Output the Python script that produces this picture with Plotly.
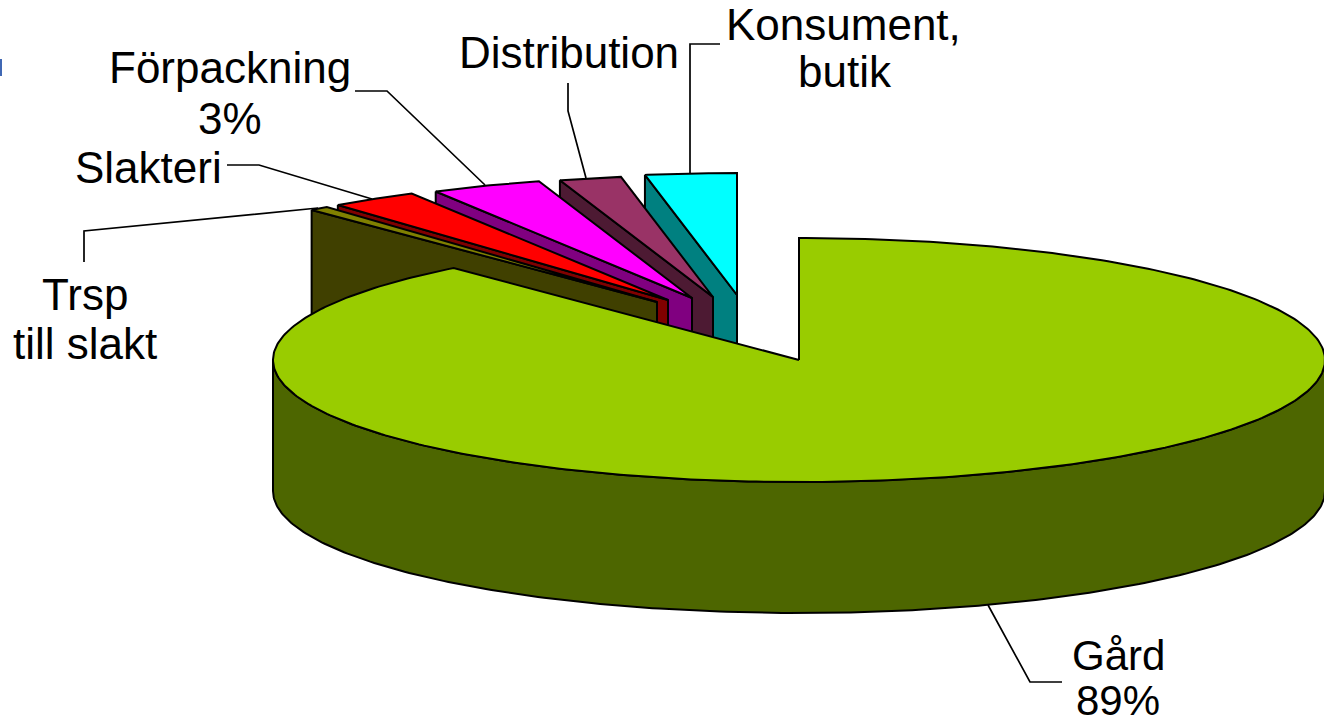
import numpy as np
import plotly.graph_objects as go

# ---- data (percent of total), clockwise from 12 o'clock
categories = ["Gård", "Trsp till slakt", "Slakteri", "Förpackning", "Distribution", "Konsument, butik"]
values = [88.6, 0.6, 2.7, 3.4, 1.9, 2.8]

top_colors = ["#99CC00", "#808000", "#FF0000", "#FF00FF", "#993366", "#00FFFF"]
wall_colors = ["#4D6600", "#404000", "#800000", "#800080", "#4D1A33", "#008080"]

# ---- pie geometry on a pixel-sized canvas
W, H = 1324, 725
CX, CY, RX, RY, DEPTH = 799, 360, 526, 122, 131
apex_x = [799, 657, 668, 692, 713, 737]
apex_y = [360, 302, 300, 298, 297, 295]


def arc(a0, a1, ax, ay, dy=0.0, n=120):
    t = np.radians(np.linspace(a0, a1, n))
    return ax + RX * np.sin(t), ay - RY * np.cos(t) + dy


fig = go.Figure()


def poly(xs, ys, fill, lw=2):
    fig.add_trace(go.Scatter(x=list(xs), y=list(ys), mode="lines", fill="toself",
                             fillcolor=fill, line=dict(color="black", width=lw),
                             hoverinfo="skip", showlegend=False))


edges = np.cumsum([0] + values) * 3.6

# exploded slices: back-most first, the big slice is drawn last
for i in range(len(values) - 1, 0, -1):
    a0, a1 = edges[i], edges[i + 1]
    ax, ay = apex_x[i], apex_y[i]
    ex, ey = arc(a0, a0, ax, ay, n=1)
    poly([ex[0], ax, ax, ex[0], ex[0]],
         [ey[0], ay, ay + DEPTH, ey[0] + DEPTH, ey[0]], wall_colors[i])
    ax0, ay0 = arc(a0, a1, ax, ay, n=40)
    poly(np.r_[ax, ax0, ax], np.r_[ay, ay0, ay], top_colors[i])

# big slice: wall then top
bx, by = arc(90, 270, CX, CY, n=240)
bx2, by2 = arc(270, 90, CX, CY, dy=DEPTH, n=240)
poly(np.r_[bx, bx2, bx[0]], np.r_[by, by2, by[0]], wall_colors[0])
tx, ty = arc(edges[0], edges[1], CX, CY, n=400)
poly(np.r_[CX, tx, CX], np.r_[CY, ty, CY], top_colors[0])

# leader lines
leaders = [
    ([720, 690, 690], [44, 44, 173]),
    ([568, 568, 586], [83, 111, 178]),
    ([355, 387, 485], [91, 91, 185]),
    ([227, 259, 372], [165, 165, 199]),
    ([84, 84, 318], [262, 231, 208]),
    ([1062, 1030, 988], [682, 682, 605]),
]
for lx, ly in leaders:
    fig.add_trace(go.Scatter(x=lx, y=ly, mode="lines", line=dict(color="black", width=1.7),
                             hoverinfo="skip", showlegend=False))

label_lines = [
    ("Konsument,", 843, 24, 44), ("butik", 845, 71, 44),
    ("Distribution", 569, 52, 44),
    ("Förpackning", 230, 67, 44), ("3%", 230, 118, 44),
    ("Slakteri", 148, 167, 44),
    ("Trsp", 85, 294, 44), ("till slakt", 85, 343, 44),
    ("Gård", 1118, 655, 42), ("89%", 1118, 700.5, 42),
]
for text, x, y, size in label_lines:
    fig.add_annotation(x=x, y=y, text=text, showarrow=False, xanchor="center", yanchor="middle",
                       font=dict(family="Liberation Sans, Arial, sans-serif", size=size, color="black"))

fig.add_shape(type="rect", x0=0, x1=2, y0=59, y1=76, fillcolor="#4068B4", line_width=0)

fig.update_layout(width=W, height=H, margin=dict(l=0, r=0, t=0, b=0),
                  paper_bgcolor="white", plot_bgcolor="white",
                  xaxis=dict(range=[0, W], visible=False, fixedrange=True),
                  yaxis=dict(range=[H, 0], visible=False, fixedrange=True),
                  showlegend=False)

fig.write_html("out.html", config={"displayModeBar": False},
               post_script="document.body.style.margin='0';document.body.style.overflow='hidden';")
